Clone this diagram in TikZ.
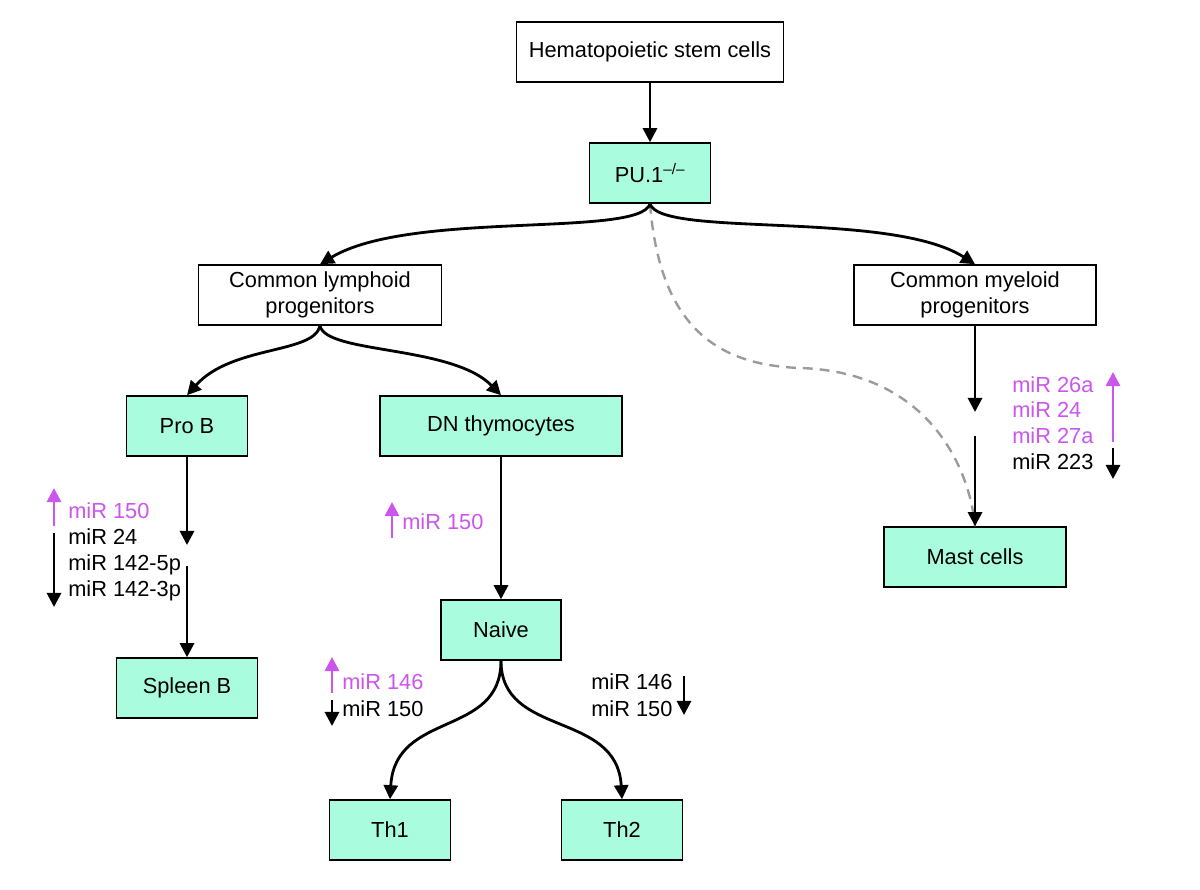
\documentclass[tikz,border=0pt]{standalone}
\usepackage{fontspec}
\setmainfont{Liberation Sans}
\usetikzlibrary{arrows.meta}

\definecolor{cellGreen}{RGB}{170,252,222}
\definecolor{mirUp}{RGB}{204,85,238}
\definecolor{linkGrey}{RGB}{155,155,155}

\begin{document}
\begin{tikzpicture}[x=0.025cm,y=-0.025cm,
  font=\fontsize{15.5}{18.5}\selectfont,
  plain/.style={draw=black,line width=1.1pt,fill=white,align=center,minimum height=1.5cm},
  cell/.style={plain,fill=cellGreen},
  bw/.style={minimum width=#1*0.025cm},
  link/.style={line width=2pt,-{Triangle[length=10pt,width=10pt]}},
  uplink/.style={link,mirUp},
  mir/.style={anchor=base west,inner sep=0pt}]
  \useasboundingbox (0,0) rectangle (1200,889);

  % cells
  \node[plain,bw=267] (hsc)     at (650,52)  {Hematopoietic stem cells};
  \node[cell,bw=121]  (pu)      at (650,173) {PU.1\textsuperscript{–/–}};
  \node[plain,bw=243] (clp)     at (320,295) {Common lymphoid\\progenitors};
  \node[plain,bw=242] (cmp)     at (975,295) {Common myeloid\\progenitors};
  \node[cell,bw=121]  (prob)    at (187,426) {Pro B};
  \node[cell,bw=242]  (dn)      at (501,426) {DN thymocytes};
  \node[cell,bw=120]  (naive)   at (501,630) {Naive};
  \node[cell,bw=141]  (spleenb) at (187,688) {Spleen B};
  \node[cell,bw=121]  (thone)   at (390,830) {Th1};
  \node[cell,bw=121]  (thtwo)   at (622,830) {Th2};
  \node[cell,bw=182]  (mast)    at (975,557) {Mast cells};

  % dashed path to mast cells
  \draw[linkGrey,line width=1.7pt,dash pattern=on 7pt off 5pt]
    (pu.south) .. controls (660,330) and (720,365) .. (800,368)
               .. controls (930,372) and (970,470) .. (mast.north);

  % lineage arrows
  \draw[link] (hsc) -- (pu);
  \draw[link] (pu.south) .. controls (640,238) and (410,210) .. (clp.north);
  \draw[link] (pu.south) .. controls (660,238) and (890,210) .. (cmp.north);
  \draw[link] (clp.south) .. controls (314,354) and (232,345) .. (prob.north);
  \draw[link] (clp.south) .. controls (326,354) and (452,345) .. (dn.north);
  \draw[link] (dn) -- (naive);
  \draw[link] (naive.south) .. controls (501,738) and (395,710) .. (thone.north);
  \draw[link] (naive.south) .. controls (501,738) and (617,710) .. (thtwo.north);

  \coordinate (probgap)  at (187,545);
  \coordinate (probrest) at (187,566);
  \draw[link] (prob) -- (probgap);
  \draw[link] (probrest) -- (spleenb);

  \coordinate (cmpgap)  at (975,412);
  \coordinate (cmprest) at (975,436);
  \draw[link] (cmp) -- (cmpgap);
  \draw[link] (cmprest) -- (mast);

  % Pro B -> Spleen B
  \draw[uplink] (54,526) -- (54,488);
  \draw[link] (54,533) -- (54,607);
  \node[mir,mirUp] (probup)    at (68,518) {miR 150};
  \node[mir]       (probdowna) at (68,544) {miR 24};
  \node[mir]       (probdownb) at (68,570) {miR 142-5p};
  \node[mir]       (probdownc) at (68,596) {miR 142-3p};

  % DN -> Naive
  \draw[uplink] (392,538) -- (392,502);
  \node[mir,mirUp] (dnup) at (402,529) {miR 150};

  % Naive -> Th1
  \draw[uplink] (332,693) -- (332,657);
  \draw[link] (332,700) -- (332,726);
  \node[mir,mirUp] (thoneup)   at (342,689) {miR 146};
  \node[mir]       (thonedown) at (342,716) {miR 150};

  % Naive -> Th2
  \draw[link] (684,676) -- (684,715);
  \node[mir] (thtwodowna) at (591,689) {miR 146};
  \node[mir] (thtwodownb) at (591,716) {miR 150};

  % CMP -> Mast cells
  \draw[uplink] (1113,442) -- (1113,372);
  \draw[link] (1113,448) -- (1113,479);
  \node[mir,mirUp] (mastupa) at (1012,392) {miR 26a};
  \node[mir,mirUp] (mastupb) at (1012,417) {miR 24};
  \node[mir,mirUp] (mastupc) at (1012,443) {miR 27a};
  \node[mir]       (mastdown) at (1012,469) {miR 223};
\end{tikzpicture}
\end{document}
